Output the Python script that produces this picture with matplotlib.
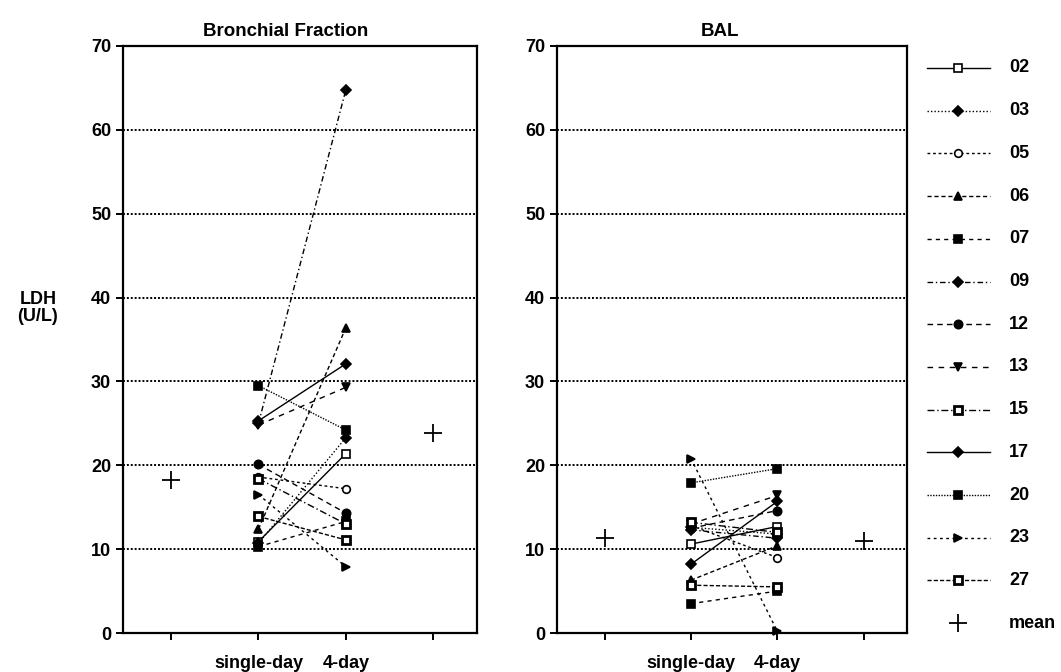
import matplotlib
matplotlib.use("Agg")
import matplotlib.pyplot as plt
from matplotlib.lines import Line2D

plt.rcParams['font.family'] = ['Liberation Sans', 'DejaVu Sans']
plt.rcParams['font.weight'] = 'bold'

# ---- data ----
subjects = ["02", "03", "05", "06", "07", "09", "12", "13", "15", "17", "20", "23", "27"]
categories = ["single-day", "4-day"]

bf_single = [10.9, 10.7, 18.6, 12.4, 10.3, 25.0, 20.1, 24.8, 18.4, 25.3, 29.5, 16.5, 13.9]
bf_four   = [21.4, 23.3, 17.2, 36.4, 13.3, 64.8, 14.3, 29.3, 13.0, 32.1, 24.2, 7.9, 11.1]

bal_single = [10.6, 12.6, 12.8, 6.3, 3.5, 12.3, 12.5, 13.0, 13.2, 8.2, 17.9, 20.8, 5.7]
bal_four   = [12.7, 11.8, 9.0, 10.4, 5.0, 11.3, 14.6, 16.4, 12.0, 15.7, 19.6, 0.2, 5.5]

bf_mean = [18.2, 23.8]
bal_mean = [11.3, 11.0]

# ---- styles ----
styles = {
    "02": dict(ls='-', marker='s', mfc='white', ms=5.5),
    "03": dict(ls=(0, (1, 1.5)), marker='D', mfc='black', ms=5),
    "05": dict(ls=(0, (2, 2)), marker='o', mfc='white', ms=5.5),
    "06": dict(ls=(0, (3, 2)), marker='^', mfc='black', ms=6),
    "07": dict(ls=(0, (3, 3)), marker='s', mfc='black', ms=5.5),
    "09": dict(ls=(0, (4, 2, 1, 2)), marker='D', mfc='black', ms=5),
    "12": dict(ls=(0, (4, 3)), marker='o', mfc='black', ms=6),
    "13": dict(ls=(0, (4, 4)), marker='v', mfc='black', ms=6),
    "15": dict(ls=(0, (5, 2, 1, 2)), marker='s', mfc='white', mew=2.0, ms=5.5),
    "17": dict(ls='-', marker='D', mfc='black', ms=5),
    "20": dict(ls=(0, (1, 1)), marker='s', mfc='black', ms=5.5),
    "23": dict(ls=(0, (2, 2.5)), marker='>', mfc='black', ms=6),
    "27": dict(ls=(0, (3, 1.5)), marker='s', mfc='white', mew=2.0, ms=5.5),
}

W, H = 1061, 672
fig = plt.figure(figsize=(W / 100, H / 100), dpi=100)

def fx(px):
    return px / W

def fy(py):
    return 1 - py / H

ax1 = fig.add_axes([fx(123), fy(633), fx(477 - 123), (633 - 46) / H])
ax2 = fig.add_axes([fx(557), fy(633), fx(907 - 557), (633 - 46) / H])

xpos = [1, 2]
FS = 13

def draw(ax, single, four, mean, title, tx):
    for i, s in enumerate(subjects):
        st = styles[s]
        ax.plot(xpos, [single[i], four[i]], color='black', lw=1.0,
                ls=st['ls'], marker=st['marker'], mfc=st['mfc'], mec='black',
                mew=st.get('mew', 1.2), ms=st['ms'], clip_on=False, zorder=3)
    ax.plot([0, 3], mean, ls='none', marker='+', ms=13, mew=1.3, color='black', zorder=3)
    ax.set_xlim(-0.55, 3.5)
    ax.set_ylim(0, 70)
    ax.set_yticks(range(0, 71, 10))
    ax.set_xticks([0, 1, 2, 3])
    ax.set_xticklabels(["", categories[0], categories[1], ""])
    for y in range(10, 61, 10):
        ax.axhline(y, color='black', lw=1.4, ls=(0, (1, 1)), zorder=1)
    for sp in ax.spines.values():
        sp.set_linewidth(1.6)
    ax.tick_params(axis='both', direction='out', length=5, width=1.4, labelsize=FS)
    ax.tick_params(axis='x', pad=11)
    ax.set_title(title, fontsize=13.5, fontweight='bold', pad=7, x=tx)

draw(ax1, bf_single, bf_four, bf_mean, "Bronchial Fraction", 0.458)
draw(ax2, bal_single, bal_four, bal_mean, "BAL", 0.466)

fig.text(fx(38), fy(308), "LDH\n(U/L)", ha='center', va='center', fontsize=FS,
         fontweight='bold', linespacing=1.05)

# ---- legend ----
lax = fig.add_axes([0, 0, 1, 1])
lax.set_xlim(0, W)
lax.set_ylim(H, 0)
lax.axis('off')
row0, dy = 68, 42.7
for i, s in enumerate(subjects):
    st = styles[s]
    y = row0 + i * dy
    lax.add_line(Line2D([927, 990], [y, y], color='black', lw=1.0, ls=st['ls']))
    lax.add_line(Line2D([958], [y], ls='none', marker=st['marker'], mfc=st['mfc'],
                        mec='black', mew=st.get('mew', 1.2), ms=st['ms']))
    lax.text(1009, y, s, ha='left', va='center', fontsize=FS, fontweight='bold')
y = row0 + len(subjects) * dy
lax.add_line(Line2D([958], [y], ls='none', marker='+', ms=13, mew=1.3, color='black'))
lax.text(1009, y, "mean", ha='left', va='center', fontsize=FS, fontweight='bold')

fig.savefig("out.png", dpi=100)
